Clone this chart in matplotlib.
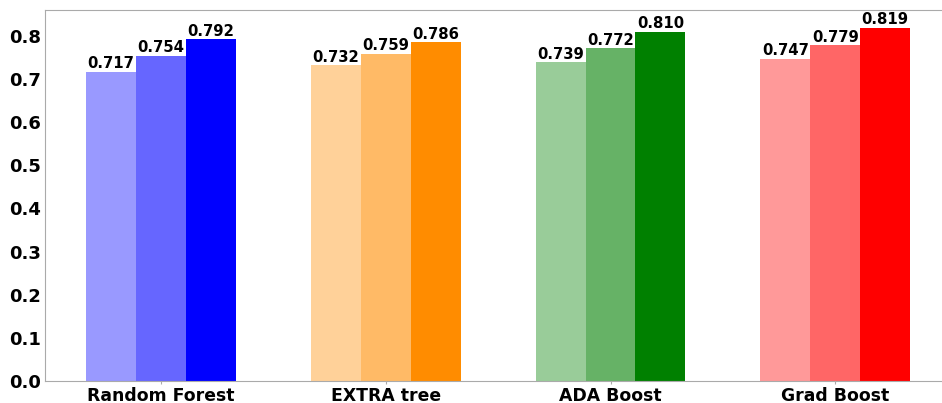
import numpy as np
import matplotlib
matplotlib.use('Agg')
import matplotlib.pyplot as plt

models = ['Random Forest', 'EXTRA tree', 'ADA Boost', 'Grad Boost']
base_colors = ['blue', 'darkorange', 'green', 'red']
alphas = [0.4, 0.6, 1.0]

# three scores per model, lightest to darkest bar
scores_a = [0.717, 0.732, 0.739, 0.747]
scores_b = [0.754, 0.759, 0.772, 0.779]
scores_c = [0.792, 0.786, 0.810, 0.819]

plt.rcParams['font.family'] = 'DejaVu Sans'
plt.rcParams['font.weight'] = 'bold'

fig = plt.figure(figsize=(9.42, 4.03), dpi=100)
ax = fig.add_axes([0.0478, 0.0546, 0.962, 0.9204])

x = np.arange(len(models))
width = 0.222
for k, vals in enumerate([scores_a, scores_b, scores_c]):
    pos = x + (k - 1) * width
    for i, v in enumerate(vals):
        ax.bar(pos[i], v, width, color=base_colors[i], alpha=alphas[k], linewidth=0)
        ax.text(pos[i], v + 0.001, f'{v:.3f}', ha='center', va='bottom',
                fontsize=10.7, fontweight='bold')

ticks = np.arange(0, 0.81, 0.1)
ax.set_xticks(x)
ax.set_xticklabels(models, fontsize=12.4, fontweight='bold')
ax.set_yticks(ticks)
ax.set_yticklabels([f'{t:.1f}' for t in ticks], fontsize=13, fontweight='bold')
ax.set_ylim(0, 0.86)
ax.set_xlim(-0.516, 3.516)
ax.tick_params(axis='x', length=2, color='#aaaaaa', pad=2)
ax.tick_params(axis='y', length=0, pad=3)
for s in ax.spines.values():
    s.set_color('#aaaaaa')
ax.spines['right'].set_visible(False)

fig.savefig('out.png', dpi=100, facecolor='white')
